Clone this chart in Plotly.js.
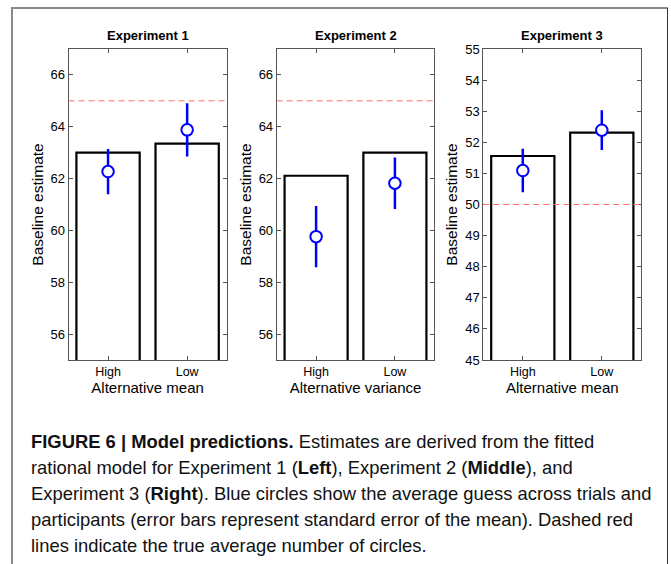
<!DOCTYPE html>
<html>
<head>
<meta charset="utf-8">
<script src="https://cdn.plot.ly/plotly-3.0.1.min.js"></script>
<style>
html, body { margin: 0; padding: 0; background: #fff; }
#chart { width: 671px; height: 564px; }
</style>
</head>
<body>
<div id="chart"></div>
<script>
// ---- data ----
const categories = ['High', 'Low'];
const panelTitles = ['Experiment 1', 'Experiment 2', 'Experiment 3'];
const xAxisTitles = ['Alternative mean', 'Alternative variance', 'Alternative mean'];
const yAxisTitle = 'Baseline estimate';

const exp1Model = [63.0, 63.35];
const exp1Guess = [62.27, 63.88];
const exp1Sem = [0.87, 1.03];

const exp2Model = [62.11, 63.0];
const exp2Guess = [59.76, 61.82];
const exp2Sem = [1.18, 0.99];

const exp3Model = [51.56, 52.31];
const exp3Guess = [51.09, 52.39];
const exp3Sem = [0.70, 0.64];

const trueAverage = [65, 65, 50];

const yTicks12 = [56, 58, 60, 62, 64, 66];
const yTicks3 = [45, 46, 47, 48, 49, 50, 51, 52, 53, 54, 55];

const captionLines = [
  '<b>FIGURE 6 | Model predictions.</b> Estimates are derived from the fitted',
  'rational model for Experiment 1 (<b>Left</b>), Experiment 2 (<b>Middle</b>), and',
  'Experiment 3 (<b>Right</b>). Blue circles show the average guess across trials and',
  'participants (error bars represent standard error of the mean). Dashed red',
  'lines indicate the true average number of circles.'
];

// ---- layout helpers ----
const W = 671, H = 564;
const FONT = '"Liberation Sans", Arial, Helvetica, sans-serif';
const px = v => v / W;
const py = v => 1 - v / H;

const models = [exp1Model, exp2Model, exp3Model];
const guesses = [exp1Guess, exp2Guess, exp3Guess];
const sems = [exp1Sem, exp2Sem, exp3Sem];
const xDomains = [[px(68.5), px(226.7)], [px(276.7), px(434.3)], [px(483.3), px(641.3)]];
const yDomain = [py(360), py(49)];
const yRanges = [[55, 67], [55, 67], [45, 55]];
const yTickSets = [yTicks12, yTicks12, yTicks3];

const traces = [];
const layout = {
  width: W, height: H,
  margin: {l: 0, r: 0, t: 0, b: 0},
  paper_bgcolor: '#fff', plot_bgcolor: '#fff',
  showlegend: false,
  font: {family: FONT, color: '#000', size: 12},
  annotations: [],
  shapes: []
};

for (let i = 0; i < 3; i++) {
  const s = i === 0 ? '' : String(i + 1);
  const xa = 'x' + s, ya = 'y' + s;
  traces.push({
    type: 'bar', x: categories, y: models[i], xaxis: xa, yaxis: ya,
    width: 0.8,
    marker: {color: '#ffffff', line: {color: '#000000', width: 2.2}},
    hoverinfo: 'skip'
  });
  traces.push({
    type: 'scatter', mode: 'markers', x: categories, y: guesses[i], xaxis: xa, yaxis: ya,
    marker: {symbol: 'circle', size: 11.5, color: '#ffffff', line: {color: '#0000ff', width: 2}},
    error_y: {type: 'data', array: sems[i], visible: true, color: '#0000ff', thickness: 2.5, width: 0},
    hoverinfo: 'skip'
  });
  layout['xaxis' + s] = {
    domain: xDomains[i], anchor: ya,
    type: 'category', range: [-0.5, 1.5],
    showline: true, linecolor: '#555', linewidth: 1, mirror: 'ticks',
    ticks: 'inside', ticklen: 4, tickcolor: '#555',
    showgrid: false, zeroline: false, fixedrange: true,
    tickfont: {family: FONT, size: 12.5, color: '#000'},
    title: {text: xAxisTitles[i], font: {family: FONT, size: 15, color: '#000'}, standoff: 2}
  };
  layout['yaxis' + s] = {
    domain: yDomain, anchor: xa,
    range: yRanges[i], tickvals: yTickSets[i],
    showline: true, linecolor: '#555', linewidth: 1, mirror: 'ticks',
    ticks: 'inside', ticklen: 4, tickcolor: '#555',
    showgrid: false, zeroline: false, fixedrange: true,
    tickfont: {family: FONT, size: 13, color: '#000'},
    title: {text: yAxisTitle, font: {family: FONT, size: 15.5, color: '#000'}, standoff: 3}
  };
  layout.shapes.push({
    type: 'line', xref: xa + ' domain', yref: ya, x0: 0, x1: 1,
    y0: trueAverage[i], y1: trueAverage[i],
    line: {color: '#ff6f6f', width: 1, dash: '6px,4px'}, layer: 'above'
  });
  layout.annotations.push({
    text: '<b>' + panelTitles[i] + '</b>', xref: xa + ' domain', yref: 'paper',
    x: 0.5, y: py(35), xanchor: 'center', yanchor: 'middle', showarrow: false,
    font: {family: FONT, size: 13, color: '#000'}
  });
}

// caption
captionLines.forEach((t, k) => {
  layout.annotations.push({
    text: t, xref: 'paper', yref: 'paper', x: px(29), y: py(441 + k * 26.2),
    xanchor: 'left', yanchor: 'middle', showarrow: false, align: 'left',
    font: {family: FONT, size: 18.4, color: '#111'}
  });
});

// surrounding frame
layout.shapes.push(
  {type: 'line', xref: 'paper', yref: 'paper', x0: px(12), x1: px(12), y0: py(8), y1: py(564), line: {color: '#8a8a8a', width: 2}},
  {type: 'line', xref: 'paper', yref: 'paper', x0: px(11), x1: px(668), y0: py(8), y1: py(8), line: {color: '#8a8a8a', width: 2}},
  {type: 'line', xref: 'paper', yref: 'paper', x0: px(667.5), x1: px(667.5), y0: py(8), y1: py(564), line: {color: '#333', width: 1}}
);

Plotly.newPlot('chart', traces, layout, {staticPlot: true, displayModeBar: false});
</script>
</body>
</html>
